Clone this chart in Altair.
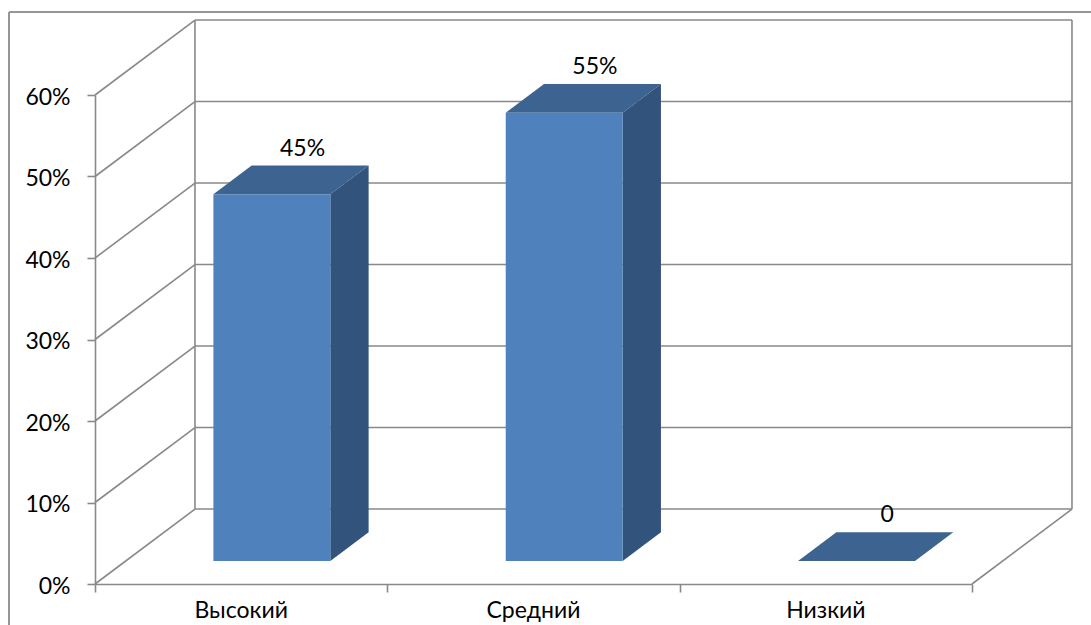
import altair as alt
import pandas as pd

# ---- data ----
categories = ["Высокий", "Средний", "Низкий"]
values = [45, 55, 0]
value_labels = ["45%", "55%", "0"]
y_ticks = [0, 10, 20, 30, 40, 50, 60]
x_ticks = [0, 1, 2, 3]

# ---- 3D look (in data units of the front plane) ----
DX = 0.342      # depth of the box along x (category units)
DY = 9.2        # depth of the box along y (percent units)
FRONT = 0.307   # bar front face depth fraction
BACK = 0.69     # bar back face depth fraction
HW = 0.2        # half bar width (category units)
LBL_DX = 0.21

FONT = "Lato"
GRID = "#898989"
C_FRONT = "#4F81BD"
C_TOP = "#3D6491"
C_SIDE = "#32537B"

xs = alt.Scale(domain=[0, 3], nice=False, zero=False)
ys = alt.Scale(domain=[0, 60], nice=False, zero=False)

AX_X = alt.Axis(
    values=x_ticks, labels=False, tickSize=8, tickColor=GRID, tickWidth=1.6,
    domainColor=GRID, domainWidth=1.6, grid=False, title=None)
AX_Y = alt.Axis(
    values=y_ticks, labelExpr="datum.value + '%'", tickSize=8, tickColor=GRID,
    tickWidth=1.6, domainColor=GRID, domainWidth=1.6, grid=False, title=None,
    labelFont=FONT, labelFontSize=23, labelColor="#000000", labelPadding=17,
    labelOffset=2)

bars = pd.DataFrame({
    "cat": categories,
    "pos": [i + 0.5 for i in range(len(categories))],
    "value": values,
    "label": value_labels,
})
faces = bars.merge(pd.DataFrame({"depth": [FRONT, BACK]}), how="cross")
grid = pd.DataFrame({"v": y_ticks})
walls = pd.DataFrame({"wx": [x_ticks[0], x_ticks[-1]]})

# back wall horizontal gridlines
back_grid = alt.Chart(grid).transform_calculate(
    x1=f"{DX}", x2=f"{3 + DX}", yy=f"datum.v + {DY}"
).mark_rule(color=GRID, strokeWidth=1.6).encode(
    x=alt.X("x1:Q", scale=xs, axis=AX_X), x2="x2:Q",
    y=alt.Y("yy:Q", scale=ys, axis=AX_Y),
)

# side wall diagonals
side_grid = alt.Chart(grid).transform_calculate(
    x1="0", x2=f"{DX}", y1="datum.v", y2=f"datum.v + {DY}"
).mark_rule(color=GRID, strokeWidth=1.6).encode(
    x=alt.X("x1:Q", scale=xs, axis=AX_X), x2="x2:Q",
    y=alt.Y("y1:Q", scale=ys, axis=AX_Y), y2="y2:Q",
)

# back wall vertical edges
wall_edges = alt.Chart(walls).transform_calculate(
    xx=f"datum.wx + {DX}", y1=f"{DY}", y2=f"60 + {DY}"
).mark_rule(color=GRID, strokeWidth=1.6).encode(
    x=alt.X("xx:Q", scale=xs, axis=AX_X),
    y=alt.Y("y1:Q", scale=ys, axis=AX_Y), y2="y2:Q",
)

# floor right diagonal
floor_edge = alt.Chart(walls).transform_filter("datum.wx > 0").transform_calculate(
    x2=f"datum.wx + {DX}", y1="0", y2=f"{DY}"
).mark_rule(color=GRID, strokeWidth=1.6).encode(
    x=alt.X("wx:Q", scale=xs, axis=AX_X), x2="x2:Q",
    y=alt.Y("y1:Q", scale=ys, axis=AX_Y), y2="y2:Q",
)

# bar top faces
top = alt.Chart(faces).transform_calculate(
    xl=f"datum.pos - {HW} + datum.depth * {DX}",
    xr=f"datum.pos + {HW} + datum.depth * {DX}",
    yv=f"datum.value + datum.depth * {DY}",
).mark_area(orient="horizontal", color=C_TOP).encode(
    y=alt.Y("yv:Q", scale=ys, axis=AX_Y),
    x=alt.X("xl:Q", scale=xs, axis=AX_X, stack=False), x2="xr:Q",
    detail="cat:N",
)

# bar side faces
side = alt.Chart(faces).transform_calculate(
    xr=f"datum.pos + {HW} + datum.depth * {DX}",
    yb=f"datum.depth * {DY}",
    yt=f"datum.value + datum.depth * {DY}",
).mark_area(orient="vertical", color=C_SIDE).encode(
    x=alt.X("xr:Q", scale=xs, axis=AX_X),
    y=alt.Y("yb:Q", scale=ys, axis=AX_Y, stack=False), y2="yt:Q",
    detail="cat:N",
)

# bar front faces
front = alt.Chart(bars).transform_calculate(
    x1=f"datum.pos - {HW} + {FRONT * DX}",
    x2=f"datum.pos + {HW} + {FRONT * DX}",
    y1=f"{FRONT * DY}",
    y2=f"datum.value + {FRONT * DY}",
).mark_rect(color=C_FRONT).encode(
    x=alt.X("x1:Q", scale=xs, axis=AX_X), x2="x2:Q",
    y=alt.Y("y1:Q", scale=ys, axis=AX_Y), y2="y2:Q",
)

# value labels
vlabels = alt.Chart(bars).transform_calculate(
    lx=f"datum.pos + {LBL_DX}",
    ly=f"datum.value + {BACK * DY}",
).mark_text(font=FONT, fontSize=23, color="#000000", baseline="alphabetic",
            align="center", dy=-10).encode(
    x=alt.X("lx:Q", scale=xs, axis=AX_X),
    y=alt.Y("ly:Q", scale=ys, axis=AX_Y),
    text="label:N",
)

# category labels
clabels = alt.Chart(bars).transform_calculate(zero="0").mark_text(
    font=FONT, fontSize=23, color="#000000", baseline="alphabetic",
    align="center", dy=34,
).encode(
    x=alt.X("pos:Q", scale=xs, axis=AX_X),
    y=alt.Y("zero:Q", scale=ys, axis=AX_Y),
    text="cat:N",
)

# outer chart border
border_left = alt.Chart(grid).mark_rule(color="#969696", strokeWidth=1.6).encode(
    x=alt.value(-86), y=alt.value(-83), y2=alt.value(700))
border_top = alt.Chart(grid).mark_rule(color="#969696", strokeWidth=1.6).encode(
    x=alt.value(-86), x2=alt.value(1100), y=alt.value(-83))

chart = alt.layer(
    back_grid, side_grid, wall_edges, floor_edge,
    top, side, front, vlabels, clabels, border_left, border_top,
).properties(
    width=877, height=489,
    padding={"left": 95, "top": 95, "right": 119, "bottom": 41},
    autosize="none",
    background="#ffffff",
).configure_view(strokeWidth=0)

chart.save("out.html", embed_options={"renderer": "svg", "actions": False})
